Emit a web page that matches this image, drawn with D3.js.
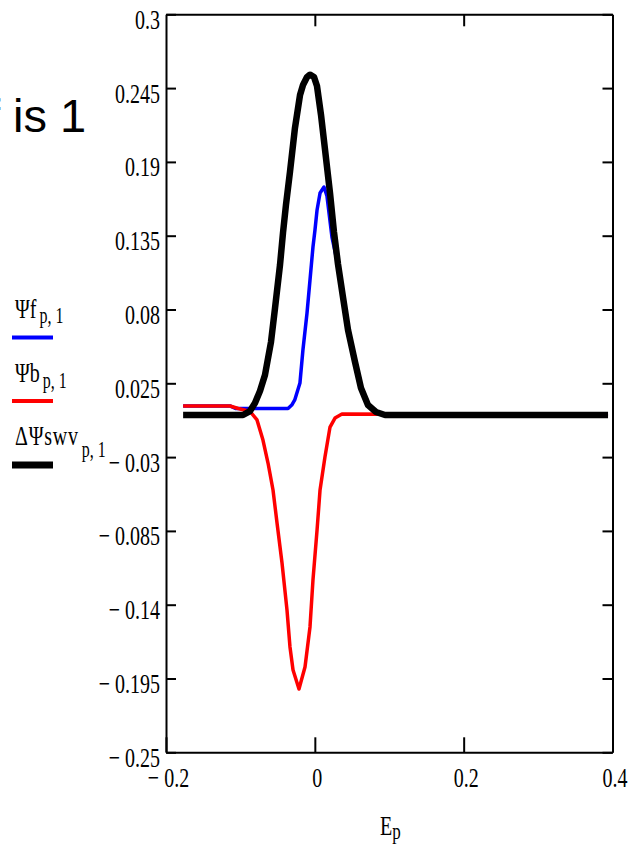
<!DOCTYPE html>
<html>
<head>
<meta charset="utf-8">
<script src="https://cdn.jsdelivr.net/npm/d3@7/dist/d3.min.js"></script>
<style>
  html, body { margin: 0; padding: 0; background: #fff; }
  svg { display: block; }
</style>
</head>
<body>
<svg id="chart" width="633" height="849"></svg>
<script>
// ---------- data ----------
// Psi f_{p,1}  (blue)
const fE = [-0.177, -0.114, -0.106, -0.036, -0.031, -0.027, -0.020, -0.016, -0.0105, -0.0065, -0.0025, 0.0002, 0.003, 0.007, 0.0123, 0.0163, 0.0230, 0.0311, 0.0378, 0.0446, 0.054, 0.062, 0.0714, 0.0822, 0.0943, 0.394];
const fV = [0.0081, 0.0081, 0.0062, 0.0062, 0.0088, 0.0126, 0.0252, 0.0498, 0.0774, 0.1020, 0.1266, 0.1392, 0.1542, 0.1668, 0.1713, 0.1646, 0.1340, 0.1130, 0.0885, 0.0640, 0.0405, 0.0212, 0.0086, 0.0034, 0.0014, 0.0014];
// Psi b_{p,1}  (red)
const bE = [-0.177, -0.114, -0.103, -0.087, -0.0777, -0.0697, -0.0629, -0.0562, -0.0508, -0.0441, -0.0374, -0.0334, -0.0293, -0.0213, -0.0132, -0.0065, -0.0025, 0.003, 0.007, 0.0136, 0.0204, 0.0271, 0.0365, 0.394];
const bV = [0.0081, 0.0081, 0.0062, 0.0040, -0.0023, -0.0173, -0.0344, -0.0545, -0.0791, -0.1089, -0.1440, -0.1715, -0.1887, -0.2028, -0.1864, -0.1566, -0.1216, -0.0843, -0.0545, -0.0299, -0.0076, -0.0009, 0.0021, 0.0014];
// Delta Psi swv_{p,1}  (black)
const dE = [-0.177, -0.0965, -0.0871, -0.0804, -0.0737, -0.067, -0.0589, -0.0535, -0.0468, -0.0428, -0.0388, -0.0334, -0.0267, -0.0199, -0.0159, -0.0105, -0.0065, -0.0011, 0.0029, 0.0083, 0.015, 0.0204, 0.0257, 0.0311, 0.0378, 0.0446, 0.054, 0.062, 0.0714, 0.0822, 0.0943, 0.394];
const dV = [0.0014, 0.0014, 0.0043, 0.0103, 0.0193, 0.0312, 0.0558, 0.0811, 0.1132, 0.1370, 0.1579, 0.1825, 0.2153, 0.2399, 0.2473, 0.2533, 0.2550, 0.2533, 0.2466, 0.2250, 0.1929, 0.1668, 0.1378, 0.1139, 0.0893, 0.0647, 0.0409, 0.0215, 0.0088, 0.0036, 0.0014, 0.0014];

const yTicks = [0.3, 0.245, 0.19, 0.135, 0.08, 0.025, -0.03, -0.085, -0.14, -0.195, -0.25];
const yTickLabels = ["0.3", "0.245", "0.19", "0.135", "0.08", "0.025", "\u2212 0.03", "\u2212 0.085", "\u2212 0.14", "\u2212 0.195", "\u2212 0.25"];
const xTicks = [-0.2, 0, 0.2, 0.4];
const xTickLabels = ["\u2212 0.2", "0", "0.2", "0.4"];
const innerXTicks = [0, 0.2];

const legendNames = ["\u03A8f", "\u03A8b", "\u0394\u03A8swv"];
const legendSubs = ["p, 1", "p, 1", "p, 1"];
const legendColors = ["#0000ff", "#ff0000", "#000000"];
const titleText = "f is 1";
const xTitle = "E";
const xTitleSub = "p";

// ---------- layout ----------
const svg = d3.select("#chart");
const L = 166, R = 612.5, T = 14.3, B = 752.3;
const x = d3.scaleLinear().domain([-0.2, 0.4]).range([L, R]);
const y = d3.scaleLinear().domain([-0.25, 0.3]).range([B, T]);
const serif = "'Liberation Serif', 'Times New Roman', serif";
const SY = 1.38;

svg.append("rect").attr("width", 633).attr("height", 849).attr("fill", "#fff");

// title fragment (clipped at the left, as in the reference)
svg.append("text")
  .attr("x", -13).attr("y", 132)
  .attr("font-family", "'Liberation Sans', Arial, sans-serif")
  .attr("font-size", 47)
  .attr("fill", "#000")
  .text(titleText);

// ---------- series ----------
const line = d3.line().x(d => x(d[0])).y(d => y(d[1]));
const series = [
  { E: fE, V: fV, color: legendColors[0], w: 3.5 },
  { E: bE, V: bV, color: legendColors[1], w: 3.5 },
  { E: dE, V: dV, color: legendColors[2], w: 6.5 }
];
series.forEach(s => {
  svg.append("path")
    .datum(s.E.map((e, i) => [e, s.V[i]]))
    .attr("fill", "none")
    .attr("stroke", s.color)
    .attr("stroke-width", s.w)
    .attr("stroke-linejoin", "round")
    .attr("stroke-linecap", "butt")
    .attr("d", line);
});

// ---------- axes ----------
function styleAxis(g) {
  g.select(".domain").attr("stroke", "#000").attr("stroke-width", 2);
  g.selectAll(".tick line").attr("stroke", "#000").attr("stroke-width", 2);
}

const gl = svg.append("g").attr("transform", `translate(${L},0)`)
  .call(d3.axisLeft(y).tickValues(yTicks).tickSize(-10).tickSizeOuter(0).tickPadding(6)
    .tickFormat((d, i) => yTickLabels[i]));
styleAxis(gl);
gl.selectAll(".tick text")
  .attr("font-family", serif).attr("font-size", 20).attr("fill", "#000")
  .attr("y", 0).attr("dy", null)
  .attr("transform", `translate(0,14) scale(1,${SY})`);

const gr = svg.append("g").attr("transform", `translate(${R},0)`)
  .call(d3.axisRight(y).tickValues(yTicks).tickSize(-10).tickSizeOuter(0).tickFormat(""));
styleAxis(gr);

const gt = svg.append("g").attr("transform", `translate(0,${T})`)
  .call(d3.axisTop(x).tickValues(innerXTicks).tickSize(-12).tickSizeOuter(0).tickFormat(""));
styleAxis(gt);

const gb = svg.append("g").attr("transform", `translate(0,${B})`)
  .call(d3.axisBottom(x).tickValues(xTicks).tickSize(-15).tickSizeOuter(0)
    .tickFormat((d, i) => xTickLabels[i]));
styleAxis(gb);
gb.selectAll(".tick text")
  .attr("font-family", serif).attr("font-size", 20).attr("fill", "#000")
  .attr("y", 0).attr("dy", null)
  .attr("transform", `translate(2,35) scale(1,${SY})`);

// x axis title E_p
const xt = svg.append("g").attr("transform", `translate(380,835) scale(1,${SY})`);
const xtt = xt.append("text").attr("font-family", serif).attr("font-size", 20).attr("fill", "#000");
xtt.append("tspan").text(xTitle);
xtt.append("tspan").attr("dy", 3).attr("font-size", 17).text(xTitleSub);

// ---------- legend ----------
const legBase = [318, 382, 445];
const subBase = [323, 388, 457];
const lineY = [337.5, 401, 465];
const lineW = [4, 4, 7];
legendNames.forEach((name, i) => {
  const g = svg.append("g");
  const tg = g.append("g").attr("transform", `translate(15,${legBase[i]}) scale(1,${SY})`);
  const t = tg.append("text").attr("font-family", serif).attr("font-size", 20).attr("fill", "#000")
    .attr("letter-spacing", i === 2 ? 0.8 : 0)
    .text(name);
  const w = t.node().getComputedTextLength();
  g.append("g").attr("transform", `translate(${15 + w + 3},${subBase[i]}) scale(1,${SY})`)
    .append("text").attr("font-family", serif).attr("font-size", 16).attr("fill", "#000")
    .text(legendSubs[i]);
  g.append("line").attr("x1", 12).attr("x2", 53).attr("y1", lineY[i]).attr("y2", lineY[i])
    .attr("stroke", legendColors[i]).attr("stroke-width", lineW[i]);
});
</script>
</body>
</html>
